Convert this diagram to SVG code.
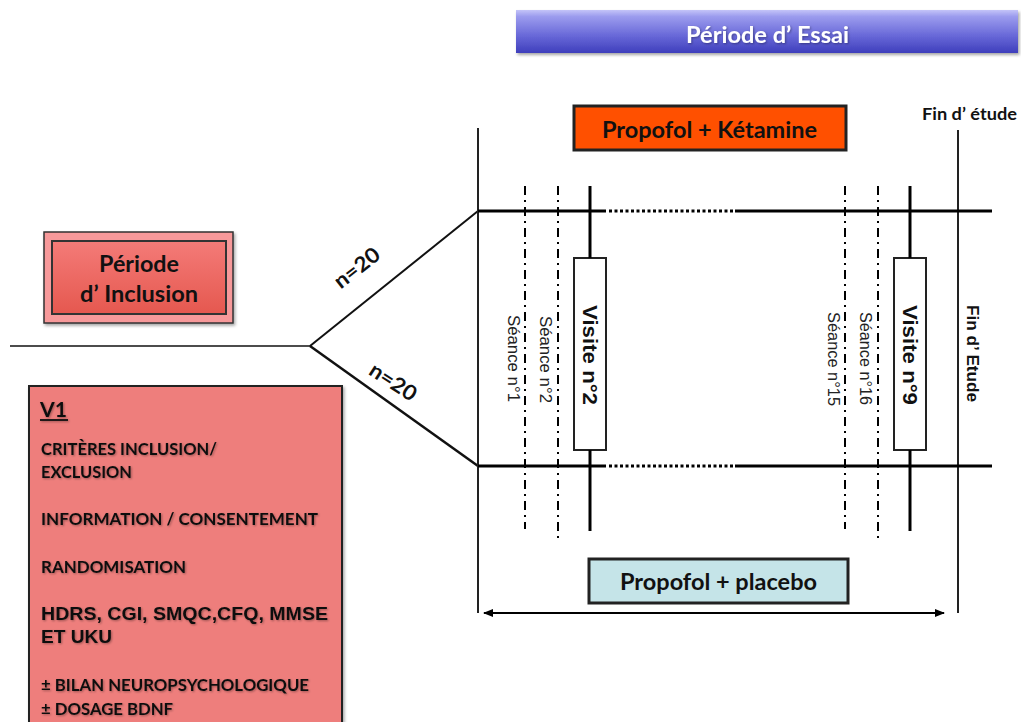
<svg xmlns="http://www.w3.org/2000/svg" width="1021" height="722" viewBox="0 0 1021 722">
<defs>
<linearGradient id="gTitle" x1="0" y1="0" x2="0" y2="1">
<stop offset="0" stop-color="#C4C4F8"/>
<stop offset="0.15" stop-color="#9C9CEE"/>
<stop offset="0.6" stop-color="#6868D8"/>
<stop offset="1" stop-color="#3F3FBC"/>
</linearGradient>
<linearGradient id="gInc" x1="0" y1="0" x2="0" y2="1">
<stop offset="0" stop-color="#F47B78"/>
<stop offset="1" stop-color="#E5584F"/>
</linearGradient>
<filter id="sh" x="-10%" y="-10%" width="130%" height="140%">
<feDropShadow dx="1.5" dy="2" stdDeviation="1.5" flood-color="#000" flood-opacity="0.35"/>
</filter>
<filter id="tsh" x="-5%" y="-20%" width="110%" height="150%">
<feDropShadow dx="1" dy="1" stdDeviation="1" flood-color="#000" flood-opacity="0.35"/>
</filter>
<marker id="ah" viewBox="0 0 10 10" refX="9" refY="5" markerWidth="10" markerHeight="10" markerUnits="userSpaceOnUse" orient="auto-start-reverse">
<path d="M0,1 L10,5 L0,9 z" fill="#000"/>
</marker>
<style>
.cal{font-family:Lato,"Open Sans","Liberation Sans",sans-serif;font-weight:bold;}
.ar{font-family:"Liberation Sans",Arial,sans-serif;}
.dd{stroke:#000;stroke-width:2;stroke-dasharray:9 5 2 5;fill:none;}
.thick{stroke:#000;stroke-width:3;fill:none;}
.vline{stroke:#222;stroke-width:2;fill:none;}
.vis{fill:#fff;stroke:#222;stroke-width:2;}
.v1t{font-size:17.5px;fill:#111;}
</style>
</defs>
<rect width="1021" height="722" fill="#fff"/>

<g id="title">
<rect x="516" y="10" width="502" height="43" fill="url(#gTitle)" filter="url(#sh)"/>
<text class="cal" x="686" y="43" font-size="23" fill="#fff" textLength="163" lengthAdjust="spacingAndGlyphs" filter="url(#tsh)">Période d’ Essai</text>
</g>

<g id="ketamine">
<rect x="574" y="106" width="272" height="44" fill="#FF5000" stroke="#222" stroke-width="3"/>
<text class="cal" x="602" y="138" font-size="22" fill="#111" textLength="215" lengthAdjust="spacingAndGlyphs">Propofol + Kétamine</text>
</g>

<g id="fin-etude-top">
<text class="cal" x="922" y="120" font-size="17" fill="#111" textLength="95" lengthAdjust="spacingAndGlyphs">Fin d’ étude</text>
</g>

<g id="inclusion">
<rect x="44" y="232" width="189" height="91" fill="#F7999A" stroke="#333" stroke-width="1.5" filter="url(#sh)"/>
<rect x="52" y="241" width="174" height="73" fill="url(#gInc)" stroke="#333" stroke-width="2"/>
<text class="cal" x="139" y="272" font-size="22" fill="#111" text-anchor="middle" textLength="80" lengthAdjust="spacingAndGlyphs">Période</text>
<text class="cal" x="139" y="302" font-size="22" fill="#111" text-anchor="middle" textLength="118" lengthAdjust="spacingAndGlyphs">d’ Inclusion</text>
</g>

<g id="v1">
<rect x="29" y="386" width="313" height="345" fill="#EE7E7B" stroke="#222" stroke-width="2" filter="url(#sh)"/>
<g filter="url(#tsh)">
<text class="cal" x="40" y="417" font-size="20" fill="#111" textLength="27" lengthAdjust="spacingAndGlyphs">V1</text>
<line x1="40" y1="420" x2="68" y2="420" stroke="#111" stroke-width="1.8"/>
<text class="cal v1t" x="41" y="455" textLength="176" lengthAdjust="spacingAndGlyphs">CRITÈRES INCLUSION/</text>
<text class="cal v1t" x="41" y="478" textLength="91" lengthAdjust="spacingAndGlyphs">EXCLUSION</text>
<text class="cal v1t" x="41" y="525" textLength="277" lengthAdjust="spacingAndGlyphs">INFORMATION / CONSENTEMENT</text>
<text class="cal v1t" x="41" y="573" textLength="145" lengthAdjust="spacingAndGlyphs">RANDOMISATION</text>
<text class="ar" x="41" y="620" font-size="18.5" font-weight="bold" fill="#111" textLength="287" lengthAdjust="spacingAndGlyphs">HDRS, CGI, SMQC,CFQ, MMSE</text>
<text class="ar" x="41" y="643" font-size="18.5" font-weight="bold" fill="#111" textLength="71" lengthAdjust="spacingAndGlyphs">ET UKU</text>
<text class="cal v1t" x="41" y="691" textLength="268" lengthAdjust="spacingAndGlyphs">± BILAN NEUROPSYCHOLOGIQUE</text>
<text class="cal v1t" x="41" y="715" textLength="132" lengthAdjust="spacingAndGlyphs">± DOSAGE BDNF</text>
</g>
</g>

<g id="visite2">
<rect class="vis" x="574" y="258" width="32" height="192"/>
<text class="ar" transform="translate(590,355) rotate(90)" x="0" y="7.5" font-size="21" font-weight="bold" fill="#111" text-anchor="middle" textLength="100" lengthAdjust="spacingAndGlyphs">Visite n°2</text>
</g>
<g id="visite9">
<rect class="vis" x="894" y="258" width="32" height="192"/>
<text class="ar" transform="translate(910,355) rotate(90)" x="0" y="7.5" font-size="21" font-weight="bold" fill="#111" text-anchor="middle" textLength="100" lengthAdjust="spacingAndGlyphs">Visite n°9</text>
</g>

<g id="seances">
<text class="ar" transform="translate(513,358.5) rotate(90)" x="0" y="5.5" font-size="16" fill="#222" text-anchor="middle" textLength="87" lengthAdjust="spacingAndGlyphs">Séance n°1</text>
<text class="ar" transform="translate(545,359.5) rotate(90)" x="0" y="5.5" font-size="16" fill="#222" text-anchor="middle" textLength="87" lengthAdjust="spacingAndGlyphs">Séance n°2</text>
<text class="ar" transform="translate(833,359) rotate(90)" x="0" y="5.5" font-size="16" fill="#222" text-anchor="middle" textLength="94" lengthAdjust="spacingAndGlyphs">Séance n°15</text>
<text class="ar" transform="translate(865,358.5) rotate(90)" x="0" y="5.5" font-size="16" fill="#222" text-anchor="middle" textLength="93" lengthAdjust="spacingAndGlyphs">Séance n°16</text>
</g>

<g id="fin-etude-side">
<text class="ar" transform="translate(973,353.5) rotate(90)" x="0" y="6" font-size="17" font-weight="bold" fill="#111" text-anchor="middle" textLength="97" lengthAdjust="spacingAndGlyphs">Fin d’ Etude</text>
</g>

<g id="placebo">
<rect x="589" y="559" width="259" height="44" fill="#C5E4E8" stroke="#222" stroke-width="3"/>
<text class="cal" x="620" y="590" font-size="22" fill="#111" textLength="197" lengthAdjust="spacingAndGlyphs">Propofol + placebo</text>
</g>

<g id="connectors">
<line x1="10" y1="346" x2="310" y2="346" stroke="#111" stroke-width="1.6"/>
<line x1="310" y1="346" x2="478" y2="211" stroke="#111" stroke-width="2"/>
<line x1="310" y1="346" x2="478" y2="466" stroke="#111" stroke-width="2.5"/>
<text class="cal" transform="translate(357,268) rotate(-38)" x="0" y="7" font-size="21" fill="#111" text-anchor="middle" textLength="52" lengthAdjust="spacingAndGlyphs">n=20</text>
<text class="cal" transform="translate(393,382) rotate(33)" x="0" y="7" font-size="21" fill="#111" text-anchor="middle" textLength="52" lengthAdjust="spacingAndGlyphs">n=20</text>
<line class="vline" x1="478" y1="128" x2="478" y2="613"/>
<line class="vline" x1="958" y1="130" x2="958" y2="613"/>
<line class="thick" x1="478" y1="211" x2="606" y2="211"/>
<line class="thick" x1="609" y1="211" x2="733" y2="211" stroke-dasharray="3 2.5"/>
<line class="thick" x1="735" y1="211" x2="992" y2="211"/>
<line class="thick" x1="478" y1="466" x2="606" y2="466" stroke-width="3.5"/>
<line class="thick" x1="609" y1="466" x2="733" y2="466" stroke-dasharray="3 2.5" stroke-width="3.5"/>
<line class="thick" x1="735" y1="466" x2="992" y2="466" stroke-width="3.5"/>
<line class="dd" x1="525" y1="186" x2="525" y2="529"/>
<line class="dd" x1="558" y1="186" x2="558" y2="539"/>
<line class="dd" x1="845" y1="186" x2="845" y2="529"/>
<line class="dd" x1="878" y1="186" x2="878" y2="539"/>
<line class="thick" x1="590" y1="186" x2="590" y2="258"/>
<line class="thick" x1="590" y1="450" x2="590" y2="531"/>
<line class="thick" x1="910" y1="186" x2="910" y2="258"/>
<line class="thick" x1="910" y1="450" x2="910" y2="531"/>
<line x1="484" y1="613" x2="944" y2="613" stroke="#000" stroke-width="1.8" marker-start="url(#ah)" marker-end="url(#ah)"/>
</g>
</svg>
